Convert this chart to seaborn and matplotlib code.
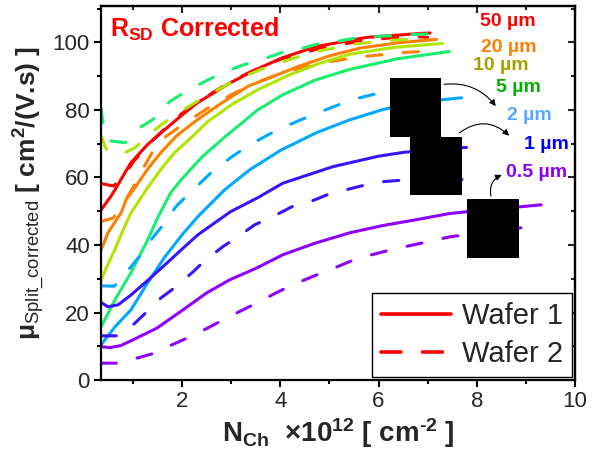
import numpy as np
import pandas as pd
import seaborn as sns
import matplotlib
matplotlib.use("Agg")
import matplotlib.pyplot as plt
from matplotlib.lines import Line2D
from matplotlib.patches import Rectangle
from matplotlib.ticker import MultipleLocator

# ---------------- data ----------------
widths = ["50 µm", "20 µm", "10 µm", "5 µm", "2 µm", "1 µm", "0.5 µm"]

w50_x1 = [0.35, 0.43, 0.56, 0.66, 0.8, 0.96, 1.3, 1.65, 2.0, 2.32, 2.99, 3.48, 4.05, 4.74, 5.76, 6.89, 7.05]
w50_y1 = [50.3, 52.0, 54.6, 57.0, 60.5, 64.4, 69.8, 74.2, 78.5, 82.2, 88.1, 91.8, 95.5, 98.8, 101.5, 102.7, 102.8]
w50_x2 = [0.35, 0.6, 0.8, 1.0, 1.3, 1.65, 2.0, 2.5, 3.0, 3.5, 4.0, 5.0, 6.0, 6.6, 7.0]
w50_y2 = [58.2, 57.5, 60.0, 64.5, 69.5, 74.5, 79.0, 84.0, 88.5, 92.0, 95.0, 99.0, 101.0, 101.8, 101.5]

w20_x1 = [0.35, 0.49, 0.76, 0.86, 1.04, 1.3, 1.57, 1.9, 2.32, 2.8, 3.34, 3.48, 4.39, 5.0, 5.61, 6.4, 7.18]
w20_y1 = [38.5, 43.6, 49.6, 53.4, 57.0, 62.5, 67.4, 72.5, 77.2, 82.0, 87.0, 87.8, 93.0, 96.0, 98.3, 99.9, 100.9]
w20_x2 = [0.35, 0.6, 0.8, 1.0, 1.2, 1.51, 2.0, 2.52, 3.0, 3.5, 4.05, 4.86, 5.67, 6.5, 6.85]
w20_y2 = [47.0, 48.0, 52.0, 57.0, 62.5, 70.5, 75.5, 80.5, 84.5, 88.0, 91.0, 94.0, 95.8, 97.0, 97.3]

w10_x1 = [0.35, 0.45, 0.63, 0.8, 0.96, 1.3, 1.6, 1.85, 2.2, 2.52, 3.0, 3.54, 4.2, 4.8, 5.41, 6.3, 7.3]
w10_y1 = [29.5, 33.0, 38.6, 44.5, 49.5, 57.0, 63.0, 67.4, 72.0, 76.5, 81.5, 86.0, 90.5, 93.8, 96.5, 98.5, 99.7]
w10_x2 = [0.35, 0.45, 0.6, 0.76, 1.04, 1.35, 1.61, 2.08, 2.36, 2.77, 3.09, 3.6, 4.2, 4.8, 5.5, 6.2, 7.0]
w10_y2 = [72.5, 68.5, 67.0, 66.8, 68.8, 73.0, 76.0, 80.5, 83.0, 86.3, 88.8, 92.0, 95.0, 97.5, 99.5, 100.6, 101.2]

w5_x1 = [0.35, 0.63, 0.96, 1.3, 1.5, 1.77, 1.98, 2.4, 2.87, 3.54, 4.05, 4.7, 5.41, 6.4, 7.44]
w5_y1 = [15.7, 23.7, 31.8, 41.5, 48.0, 55.5, 59.3, 66.0, 72.0, 80.0, 84.5, 88.8, 92.0, 95.2, 97.3]
w5_x2 = [0.35, 0.4, 0.5, 0.84, 1.14, 1.41, 1.75, 2.08, 2.46, 2.83, 3.24, 3.64, 4.03, 4.35, 4.8, 5.15, 5.61, 5.96, 6.43, 6.77, 7.0]
w5_y2 = [80.7, 75.0, 70.9, 70.3, 74.8, 77.2, 82.5, 85.5, 88.4, 91.1, 93.3, 95.0, 97.0, 97.9, 99.7, 100.3, 101.5, 101.8, 102.1, 102.4, 102.5]

w2_x1 = [0.35, 0.63, 0.96, 1.3, 1.65, 2.0, 2.32, 2.87, 3.38, 4.0, 4.74, 5.4, 6.08, 6.8, 7.69]
w2_y1 = [10.4, 15.7, 20.8, 28.8, 36.5, 43.0, 48.4, 56.4, 62.3, 68.0, 73.3, 77.0, 80.1, 82.3, 83.6]
w2_x2 = [0.35, 0.62, 0.94, 1.16, 1.4, 1.65, 1.87, 2.12, 2.59, 3.0, 3.38, 3.95, 4.7, 5.45, 6.2, 7.0]
w2_y2 = [27.9, 27.8, 33.2, 37.1, 42.1, 46.6, 51.3, 54.9, 61.4, 66.0, 69.7, 74.2, 78.8, 83.0, 85.7, 87.0]

w1_x1 = [0.35, 0.49, 0.7, 0.96, 1.3, 1.65, 2.0, 2.32, 2.99, 3.54, 4.05, 5.07, 6.0, 6.49, 7.1, 7.79]
w1_y1 = [23.0, 21.7, 22.3, 25.2, 29.5, 34.1, 38.8, 43.0, 49.9, 54.0, 58.3, 63.2, 66.3, 67.4, 68.3, 68.9]
w1_x2 = [0.35, 0.69, 1.0, 1.26, 1.57, 1.87, 2.22, 2.48, 2.83, 3.13, 3.48, 3.85, 4.23, 4.6, 4.96, 5.35, 5.76, 6.12, 6.57, 7.7]
w1_y2 = [13.1, 13.1, 16.3, 19.9, 24.3, 27.6, 32.0, 35.6, 39.5, 42.4, 46.0, 48.4, 51.3, 52.8, 54.9, 56.4, 57.9, 58.8, 59.3, 59.4]

w05_x1 = [0.35, 0.53, 0.75, 1.0, 1.49, 2.02, 2.5, 2.97, 3.52, 4.05, 4.7, 5.41, 6.1, 6.77, 7.44, 8.2, 8.87, 9.31]
w05_y1 = [9.9, 9.6, 10.2, 11.9, 15.4, 20.8, 25.8, 29.7, 33.2, 37.1, 40.5, 43.6, 45.8, 47.5, 49.3, 50.5, 51.3, 51.9]
w05_x2 = [0.35, 0.68, 1.08, 1.45, 1.79, 2.16, 2.52, 2.91, 3.24, 3.64, 3.95, 4.35, 4.7, 5.1, 5.5, 5.86, 6.26, 6.63, 7.08, 7.44, 8.9]
w05_y2 = [5.0, 5.0, 6.5, 8.0, 10.4, 12.8, 15.4, 18.4, 20.8, 23.7, 26.1, 28.8, 30.9, 33.2, 35.6, 37.1, 38.6, 39.8, 41.2, 42.4, 45.1]

curves = {
    "50 µm": (w50_x1, w50_y1, w50_x2, w50_y2),
    "20 µm": (w20_x1, w20_y1, w20_x2, w20_y2),
    "10 µm": (w10_x1, w10_y1, w10_x2, w10_y2),
    "5 µm": (w5_x1, w5_y1, w5_x2, w5_y2),
    "2 µm": (w2_x1, w2_y1, w2_x2, w2_y2),
    "1 µm": (w1_x1, w1_y1, w1_x2, w1_y2),
    "0.5 µm": (w05_x1, w05_y1, w05_x2, w05_y2),
}

line_colors = {"50 µm": "#ff0000", "20 µm": "#ff8000", "10 µm": "#aee600",
               "5 µm": "#19ee70", "2 µm": "#00a8ff", "1 µm": "#3a14ff",
               "0.5 µm": "#8f00ff"}
label_colors = {"50 µm": "#ff0000", "20 µm": "#ff8000", "10 µm": "#a8a000",
                "5 µm": "#00b000", "2 µm": "#55aaff", "1 µm": "#0000ff",
                "0.5 µm": "#8800ff"}
label_pos_x = [8.64, 8.66, 8.48, 8.85, 9.07, 9.41, 9.21]
label_pos_y = [106.2, 98.5, 93.2, 86.6, 78.3, 69.7, 61.4]

rows = []
for w, (x1, y1, x2, y2) in curves.items():
    for xv, yv in zip(x1, y1):
        rows.append((w, "Wafer 1", xv, yv, "1"))
    for xv, yv in zip(x2, y2):
        rows.append((w, "Wafer 2", xv, yv, "2"))
df = pd.DataFrame(rows, columns=["width", "wafer", "N", "mu", "wid"])
df["unit"] = df["width"] + df["wid"]

# ---------------- style ----------------
sns.set_style("ticks")
plt.rcParams["font.family"] = ["Liberation Sans", "DejaVu Sans"]
plt.rcParams["mathtext.fontset"] = "custom"
plt.rcParams["mathtext.rm"] = "Liberation Sans"
plt.rcParams["mathtext.bf"] = "Liberation Sans:bold"
plt.rcParams["mathtext.it"] = "Liberation Sans:italic"
plt.rcParams["mathtext.sf"] = "Liberation Sans"
plt.rcParams["lines.dash_capstyle"] = "round"
plt.rcParams["lines.solid_capstyle"] = "round"

fig = plt.figure(figsize=(5.97, 4.59), dpi=100)
ax = fig.add_axes([0.1692, 0.172, 0.794, 0.815])

dash_style = (5.0, 7.0)
sns.lineplot(data=df, x="N", y="mu", hue="width", style="wafer", units="unit",
             estimator=None, sort=False, palette=line_colors,
             dashes={"Wafer 1": "", "Wafer 2": dash_style},
             lw=2.2, legend=False, ax=ax)

ax.set_xlim(0.35, 10)
ax.set_ylim(0, 110.8)
ax.xaxis.set_major_locator(MultipleLocator(2))
ax.xaxis.set_minor_locator(MultipleLocator(1))
ax.yaxis.set_major_locator(MultipleLocator(20))
ax.yaxis.set_minor_locator(MultipleLocator(10))

for s in ax.spines.values():
    s.set_linewidth(1.6)
    s.set_color("black")
    s.set_visible(True)
ax.tick_params(which="major", direction="out", length=5, width=1.5,
               labelsize=16, pad=3, color="black")
ax.tick_params(which="minor", direction="out", length=3, width=1.5, color="black")

# mirrored inward ticks on top / right
sec = ax.secondary_xaxis("top")
sec.xaxis.set_major_locator(MultipleLocator(2))
sec.xaxis.set_minor_locator(MultipleLocator(1))
sec.tick_params(which="major", direction="in", length=5, width=1.5, labeltop=False)
sec.tick_params(which="minor", direction="in", length=3, width=1.5)
sec.spines["top"].set_linewidth(1.6)
secy = ax.secondary_yaxis("right")
secy.yaxis.set_major_locator(MultipleLocator(20))
secy.yaxis.set_minor_locator(MultipleLocator(10))
secy.tick_params(which="major", direction="in", length=5, width=1.5, labelright=False)
secy.tick_params(which="minor", direction="in", length=3, width=1.5)
secy.spines["right"].set_linewidth(1.6)

ax.set_xlabel("N$_{\\mathbf{Ch}}$  ×10$^{\\mathbf{12}}$ [ cm$^{\\mathbf{\u2010 2}}$ ]".replace("\u2010 ", "\u2010"),
              fontsize=20, fontweight="bold", labelpad=3)
ax.set_ylabel(r"μ$_{\mathrm{Split\_corrected}}$ [ cm$^{\mathbf{2}}$/(V.s) ]",
              fontsize=19, fontweight="bold", labelpad=3)

ax.text(0.02, 0.975, r"R$_{\mathbf{SD}}$ Corrected", transform=ax.transAxes,
        color="#ff0000", fontsize=18, fontweight="bold", ha="left", va="top")

for w, lx, ly in zip(widths, label_pos_x, label_pos_y):
    ax.text(lx, ly, w, color=label_colors[w], fontsize=14, fontweight="bold",
            ha="center", va="center")

# black boxes covering parts of the original figure
box_x = [6.24, 6.65, 7.81]
box_y = [72.1, 54.9, 36.2]
box_w = [1.04, 1.04, 1.04]
box_h = [17.5, 17.2, 17.5]
for bx, by, bw, bh in zip(box_x, box_y, box_w, box_h):
    ax.add_patch(Rectangle((bx, by), bw, bh, facecolor="black", edgecolor="none", zorder=5))

arrow_kw = dict(arrowstyle="-|>", color="black", lw=0.8, mutation_scale=9)
ax.annotate("", xy=(8.42, 80.5), xytext=(7.28, 87.5),
            arrowprops=dict(connectionstyle="arc3,rad=-0.3", **arrow_kw), zorder=6)
ax.annotate("", xy=(8.7, 71.8), xytext=(7.6, 72.7),
            arrowprops=dict(connectionstyle="arc3,rad=-0.45", **arrow_kw), zorder=6)
ax.annotate("", xy=(8.56, 61.1), xytext=(8.3, 53.7),
            arrowprops=dict(connectionstyle="arc3,rad=-0.45", **arrow_kw), zorder=6)

handles = [Line2D([], [], color="#ff0000", lw=2.6),
           Line2D([], [], color="#ff0000", lw=2.6, dashes=(5.5, 6.0))]
leg = ax.legend(handles, ["Wafer 1", "Wafer 2"], loc="lower right", fontsize=21,
                frameon=True, fancybox=False, edgecolor="black", framealpha=1,
                handlelength=2.4, borderaxespad=0.1, labelspacing=0.35,
                handletextpad=0.4, borderpad=0.3)
leg.get_frame().set_linewidth(1.0)
leg.set_zorder(7)

fig.savefig("out.png", dpi=100)
